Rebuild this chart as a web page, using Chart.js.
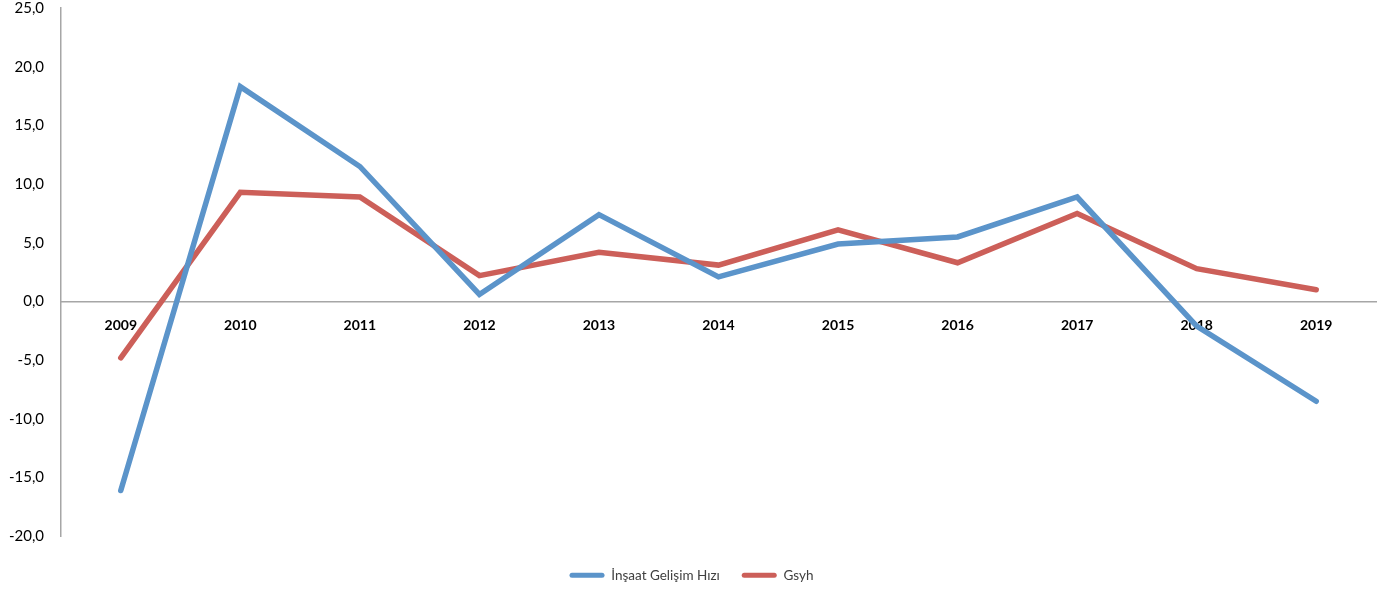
<!DOCTYPE html>
<html>
<head>
<meta charset="utf-8">
<script src="https://cdn.jsdelivr.net/npm/chart.js@4/dist/chart.umd.min.js"></script>
<style>
  html, body { margin: 0; padding: 0; background: #fff; }
  #wrap { width: 1383px; height: 590px; }
</style>
</head>
<body>
<div id="wrap"><canvas id="growthChart"></canvas></div>
<script>
// values
const years = ["2009", "2010", "2011", "2012", "2013", "2014", "2015", "2016", "2017", "2018", "2019"];
const insaat = [-16.1, 18.3, 11.5, 0.6, 7.4, 2.1, 4.9, 5.5, 8.9, -2.1, -8.5];
const gsyh = [-4.8, 9.3, 8.9, 2.2, 4.2, 3.1, 6.1, 3.3, 7.5, 2.8, 1.0];

const blue = "#5b94ca";
const red = "#cc5f59";
const axisGrey = "#a6a6a6";

const lineStyle = {
  borderWidth: 5.5,
  pointRadius: 0,
  pointHoverRadius: 0,
  tension: 0,
  fill: false,
  borderCapStyle: "round",
  borderJoinStyle: "miter"
};

// legend keys: flat bars, no outline
function legendItems(chart) {
  return Chart.defaults.plugins.legend.labels.generateLabels(chart)
    .map((item) => ({ ...item, lineWidth: 0 }));
}

new Chart(document.getElementById("growthChart"), {
  type: "line",
  data: {
    labels: years,
    datasets: [
      { label: "İnşaat Gelişim Hızı", data: insaat, borderColor: blue, backgroundColor: blue, ...lineStyle },
      { label: "Gsyh", data: gsyh, borderColor: red, backgroundColor: red, ...lineStyle }
    ]
  },
  options: {
    responsive: true,
    maintainAspectRatio: false,
    animation: false,
    layout: { padding: { left: 7, right: 7, top: 8, bottom: -2 } },
    plugins: {
      tooltip: { enabled: false },
      legend: {
        position: "bottom",
        title: { display: true, text: " ", font: { size: 1 }, padding: { top: 0, bottom: 9 } },
        labels: {
          color: "#404040",
          font: { family: "Lato", size: 13.5 },
          boxWidth: 35,
          boxHeight: 5,
          useBorderRadius: true,
          borderRadius: 2.5,
          padding: 22,
          generateLabels: legendItems
        }
      }
    },
    scales: {
      x: {
        position: { y: 0 },
        offset: true,
        grid: { display: false, drawTicks: false },
        border: { display: true, color: axisGrey, width: 1.5 },
        ticks: {
          color: "#000",
          padding: 16,
          maxRotation: 0,
          font: { family: "Lato", size: 14, weight: "bold" }
        },
        afterFit: (scale) => {
          scale.paddingLeft = 0;
          scale.paddingRight = 0;
        }
      },
      y: {
        min: -20,
        max: 25,
        grid: { display: false, drawTicks: false },
        border: { display: true, color: axisGrey, width: 1.5 },
        ticks: {
          stepSize: 5,
          color: "#000",
          padding: 17,
          font: { family: "Lato", size: 15 },
          callback: (v) => v.toFixed(1).replace(".", ",")
        },
        afterFit: (scale) => {
          scale.width = 54;
          scale.paddingTop = 8;
          scale.paddingBottom = 8;
        }
      }
    }
  }
});
</script>
</body>
</html>
